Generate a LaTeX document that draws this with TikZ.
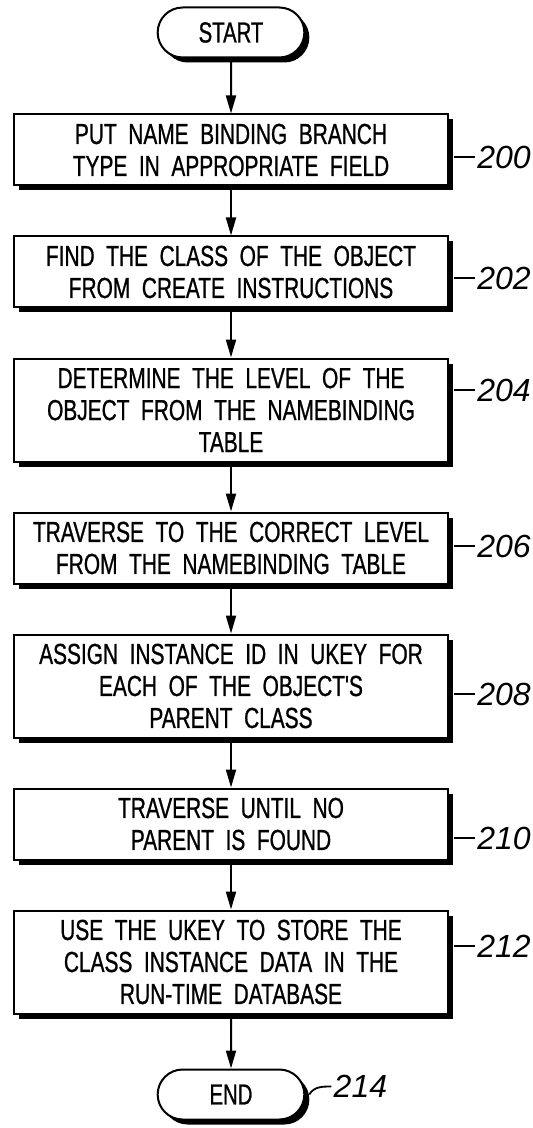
\documentclass[tikz,border=0pt]{standalone}
\usepackage{fontspec}
\newfontfamily\patfont{Liberation Sans}[FakeStretch=0.72, WordSpace=2, FakeBold=0.8]
\newfontfamily\termfont{Liberation Sans}[FakeStretch=0.7, FakeBold=0.8]
\newfontfamily\numfont{Liberation Sans}
\usetikzlibrary{shapes.misc, arrows.meta, positioning, shadows}
\tikzstyle{arrow} = [line width=1pt,-{Triangle[length=9pt,width=5pt]}]
\tikzstyle{lead} = [line width=0.9pt,-]

\begin{document}
\begin{tikzpicture}[
    x=0.5pt, y=-0.5pt,
    node distance=24.5pt,
    every node/.style={font=\patfont\fontsize{14.5}{16}\selectfont, align=center},
    shade/.style={drop shadow={shadow xshift=2.5pt, shadow yshift=-2.5pt, fill=black, opacity=1}},
    block/.style={rectangle, draw=black, line width=1pt, minimum width=217pt, minimum height=35.5pt, fill=white, shade},
    tall/.style={block, minimum height=51.5pt},
    term/.style={rounded rectangle, draw=black, line width=1pt, minimum width=80pt, minimum height=25pt, fill=white, shade, font=\termfont\fontsize{14.5}{16}\selectfont},
    num/.style={font=\numfont\itshape\fontsize{16}{18}\selectfont, inner sep=1pt},
    line/.style={draw, arrow}
]
    \useasboundingbox (0,0) rectangle (532,1128);

    % Steps
    \node[term] (start) at (231,32.5) {START};
    \node[block, below=27.5pt of start] (putname) {PUT NAME BINDING BRANCH \\ TYPE IN APPROPRIATE FIELD};
    \node[block, below=of putname] (findclass) {FIND THE CLASS OF THE OBJECT \\ FROM CREATE INSTRUCTIONS};
    \node[tall, below=of findclass] (level) {DETERMINE THE LEVEL OF THE \\ OBJECT FROM THE NAMEBINDING \\ TABLE};
    \node[block, below=of level] (traverse) {TRAVERSE TO THE CORRECT LEVEL \\ FROM THE NAMEBINDING TABLE};
    \node[tall, below=of traverse] (assign) {ASSIGN INSTANCE ID IN UKEY FOR \\ EACH OF THE OBJECT'S \\ PARENT CLASS};
    \node[block, below=of assign] (untilno) {TRAVERSE UNTIL NO \\ PARENT IS FOUND};
    \node[tall, below=of untilno] (store) {USE THE UKEY TO STORE THE \\ CLASS INSTANCE DATA IN THE \\ RUN-TIME DATABASE};
    \node[term, below=27pt of store] (finish) {END};

    % Reference numbers
    \node[num, right=13pt of putname, yshift=-3.5pt] (n200) {200};
    \node[num, right=13pt of findclass, yshift=-3pt] (n202) {202};
    \node[num, right=13pt of level, yshift=10pt] (n204) {204};
    \node[num, right=13pt of traverse, yshift=1pt] (n206) {206};
    \node[num, right=13pt of assign, yshift=-4pt] (n208) {208};
    \node[num, right=13pt of untilno, yshift=-7pt] (n210) {210};
    \node[num, right=13pt of store, yshift=8pt] (n212) {212};
    \node[num, right=13pt of finish, yshift=4pt] (n214) {214};

    % Connections
    \path[line] (start) -- (putname);
    \path[line] (putname) -- (findclass);
    \path[line] (findclass) -- (level);
    \path[line] (level) -- (traverse);
    \path[line] (traverse) -- (assign);
    \path[line] (assign) -- (untilno);
    \path[line] (untilno) -- (store);
    \path[line] (store) -- (finish);

    % Leaders
    \draw[lead] ([xshift=2.5pt]putname.east |- n200.west) -- (n200.west);
    \draw[lead] ([xshift=2.5pt]findclass.east |- n202.west) -- (n202.west);
    \draw[lead] ([xshift=2.5pt]level.east |- n204.west) -- (n204.west);
    \draw[lead] ([xshift=2.5pt]traverse.east |- n206.west) -- (n206.west);
    \draw[lead] ([xshift=2.5pt]assign.east |- n208.west) -- (n208.west);
    \draw[lead] ([xshift=2.5pt]untilno.east |- n210.west) -- (n210.west);
    \draw[lead] ([xshift=2.5pt]store.east |- n212.west) -- (n212.west);
    \draw[lead] ([xshift=2pt]finish.east) to[out=60,in=180] (n214.west);
\end{tikzpicture}
\end{document}
